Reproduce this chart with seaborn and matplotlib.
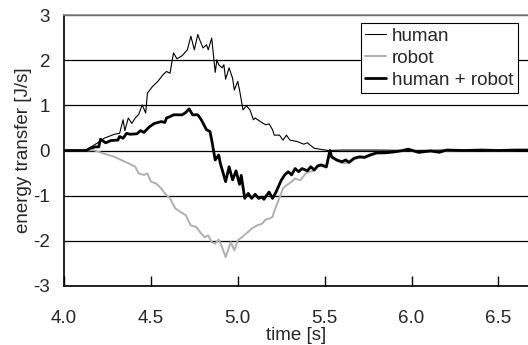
import matplotlib
matplotlib.use("Agg")
import matplotlib.pyplot as plt
import seaborn as sns

human_t = [4.00, 4.10, 4.13, 4.19, 4.23, 4.29, 4.32, 4.34, 4.35, 4.37,
           4.39, 4.41, 4.43, 4.45, 4.47, 4.48, 4.51, 4.54, 4.57, 4.59,
           4.61, 4.63, 4.65, 4.68, 4.71, 4.73, 4.75, 4.77, 4.78, 4.80,
           4.82, 4.83, 4.85, 4.87, 4.88, 4.89, 4.91, 4.92, 4.93, 4.95,
           4.97, 4.98, 5.00, 5.01, 5.03, 5.05, 5.07, 5.09, 5.10, 5.13,
           5.16, 5.18, 5.20, 5.21, 5.24, 5.26, 5.28, 5.30, 5.34, 5.38,
           5.40, 5.44, 5.47, 5.52, 5.60, 5.80, 6.00, 6.20, 6.40, 6.67]
human_v = [0.00, 0.00, 0.02, 0.16, 0.27, 0.36, 0.38, 0.68, 0.44, 0.72,
           0.60, 0.72, 0.80, 1.01, 0.83, 1.27, 1.42, 1.53, 1.68, 1.75,
           1.71, 2.16, 2.03, 2.10, 2.23, 2.53, 2.23, 2.57, 2.46, 2.27,
           2.34, 2.23, 2.49, 1.73, 2.01, 1.90, 1.83, 1.90, 1.58, 1.83,
           1.60, 1.34, 1.53, 1.34, 0.90, 0.99, 0.90, 0.68, 0.72, 0.64,
           0.57, 0.59, 0.46, 0.34, 0.34, 0.23, 0.34, 0.23, 0.20, 0.14,
           0.17, 0.05, 0.03, 0.00, 0.01, 0.01, 0.00, 0.01, 0.00, 0.00]

robot_t = [4.00, 4.13, 4.17, 4.23, 4.29, 4.34, 4.38, 4.41, 4.43, 4.46,
           4.48, 4.50, 4.53, 4.56, 4.58, 4.61, 4.64, 4.67, 4.70, 4.73,
           4.76, 4.79, 4.81, 4.83, 4.85, 4.87, 4.89, 4.91, 4.93, 4.96,
           4.98, 5.00, 5.03, 5.06, 5.08, 5.11, 5.14, 5.16, 5.18, 5.20,
           5.21, 5.24, 5.26, 5.28, 5.31, 5.33, 5.36, 5.39, 5.41, 5.44,
           5.46, 5.48, 5.51, 5.53, 5.54, 5.57, 5.60, 5.64, 5.67, 5.70,
           5.73, 5.76, 5.80, 5.85, 5.90, 5.98, 6.04, 6.11, 6.20, 6.30,
           6.40, 6.50, 6.60, 6.67]
robot_v = [0.00, 0.00, 0.01, -0.07, -0.14, -0.23, -0.30, -0.36, -0.51, -0.54,
           -0.51, -0.69, -0.73, -0.84, -0.95, -1.06, -1.28, -1.36, -1.43, -1.66,
           -1.69, -1.84, -1.92, -1.88, -2.03, -2.06, -1.97, -2.14, -2.36, -2.03,
           -2.21, -1.99, -1.90, -1.80, -1.73, -1.66, -1.62, -1.53, -1.51, -1.47,
           -1.34, -1.05, -0.84, -0.77, -0.69, -0.62, -0.66, -0.51, -0.47, -0.45,
           -0.36, -0.34, -0.38, -0.05, -0.16, -0.23, -0.28, -0.28, -0.19, -0.16,
           -0.17, -0.12, -0.07, -0.06, -0.04, 0.02, -0.05, -0.02, 0.00, 0.00,
           0.01, 0.00, 0.01, 0.01]

hr_t = [4.00, 4.07, 4.13, 4.15, 4.18, 4.20, 4.21, 4.24, 4.27, 4.31,
        4.32, 4.34, 4.36, 4.38, 4.42, 4.44, 4.46, 4.49, 4.52, 4.56,
        4.58, 4.59, 4.61, 4.63, 4.68, 4.70, 4.72, 4.74, 4.77, 4.79,
        4.82, 4.84, 4.85, 4.87, 4.89, 4.90, 4.93, 4.95, 4.97, 4.99,
        5.01, 5.02, 5.04, 5.06, 5.08, 5.10, 5.12, 5.14, 5.15, 5.18,
        5.20, 5.22, 5.25, 5.27, 5.29, 5.31, 5.33, 5.35, 5.37, 5.40,
        5.42, 5.44, 5.46, 5.48, 5.51, 5.53, 5.54, 5.57, 5.60, 5.62,
        5.64, 5.67, 5.70, 5.73, 5.76, 5.80, 5.85, 5.90, 5.95, 5.98,
        6.04, 6.11, 6.16, 6.20, 6.30, 6.40, 6.50, 6.60, 6.67]
hr_v = [0.00, 0.00, 0.00, 0.05, 0.08, 0.08, 0.25, 0.17, 0.22, 0.23,
        0.31, 0.27, 0.38, 0.36, 0.37, 0.44, 0.40, 0.52, 0.60, 0.64,
        0.62, 0.72, 0.75, 0.79, 0.79, 0.84, 0.92, 0.79, 0.79, 0.68,
        0.46, 0.42, 0.23, -0.21, -0.10, -0.29, -0.69, -0.36, -0.65, -0.45,
        -0.75, -0.55, -1.06, -0.95, -1.06, -0.97, -1.06, -1.03, -1.08, -0.92,
        -1.06, -0.92, -0.66, -0.54, -0.47, -0.54, -0.40, -0.47, -0.40, -0.45,
        -0.36, -0.43, -0.34, -0.32, -0.36, 0.00, -0.14, -0.21, -0.25, -0.21,
        -0.26, -0.17, -0.14, -0.15, -0.10, -0.05, -0.05, -0.03, 0.00, 0.03,
        -0.04, -0.01, -0.04, 0.01, 0.00, 0.01, 0.00, 0.01, 0.01]

series_labels = ["human", "robot", "human + robot"]
x_ticks = [4.0, 4.5, 5.0, 5.5, 6.0, 6.5]
y_ticks = [-3, -2, -1, 0, 1, 2, 3]

sns.set_style("white")
plt.rcParams["font.family"] = ["Liberation Sans", "DejaVu Sans"]
plt.rcParams["axes.unicode_minus"] = False
FS = 13.5

fig = plt.figure(figsize=(5.28, 3.45), dpi=100)
ax = fig.add_axes([64 / 528, (345 - 286) / 345, (528 - 64) / 528, (286 - 15) / 345])

sns.lineplot(x=robot_t, y=robot_v, ax=ax, color="#b0b0b0", lw=1.4,
             sort=False, estimator=None, label=series_labels[1], zorder=3)
sns.lineplot(x=human_t, y=human_v, ax=ax, color="black", lw=0.8,
             sort=False, estimator=None, label=series_labels[0], zorder=4)
sns.lineplot(x=hr_t, y=hr_v, ax=ax, color="black", lw=2.0,
             sort=False, estimator=None, label=series_labels[2], zorder=5)

ax.set_xlim(4.0, 6.67)
ax.set_ylim(-3, 3)
ax.set_xticks(x_ticks)
ax.set_xticklabels([f"{v:.1f}" for v in x_ticks], fontsize=FS)
ax.set_yticks(y_ticks)
ax.set_yticklabels([str(v) for v in y_ticks], fontsize=FS)
ax.yaxis.grid(True, color="black", lw=0.9, zorder=1)
ax.xaxis.grid(False)
ax.set_axisbelow(True)
ax.tick_params(axis="x", direction="in", length=7, width=1, color="black",
               pad=17, top=False, bottom=True)
ax.tick_params(axis="y", length=0, pad=10, left=False)

for s in ["left", "bottom"]:
    ax.spines[s].set_color("black")
    ax.spines[s].set_linewidth(1.2)
ax.spines["top"].set_color("#888888")
ax.spines["top"].set_linewidth(1.2)
ax.spines["right"].set_visible(False)

ax.set_xlabel("time [s]", fontsize=FS, labelpad=0)
ax.set_ylabel("energy transfer [J/s]", fontsize=FS, labelpad=1)

handles, labels = ax.get_legend_handles_labels()
order = [labels.index(l) for l in series_labels]
leg = ax.legend([handles[i] for i in order], [labels[i] for i in order],
                loc="upper right", bbox_to_anchor=(0.978, 0.970),
                borderaxespad=0, fontsize=FS, frameon=True, fancybox=False,
                edgecolor="black", framealpha=1, handlelength=1.1,
                handletextpad=0.3, labelspacing=0.25, borderpad=0.25)
leg.get_frame().set_linewidth(0.8)

fig.savefig("out.png", dpi=100)
